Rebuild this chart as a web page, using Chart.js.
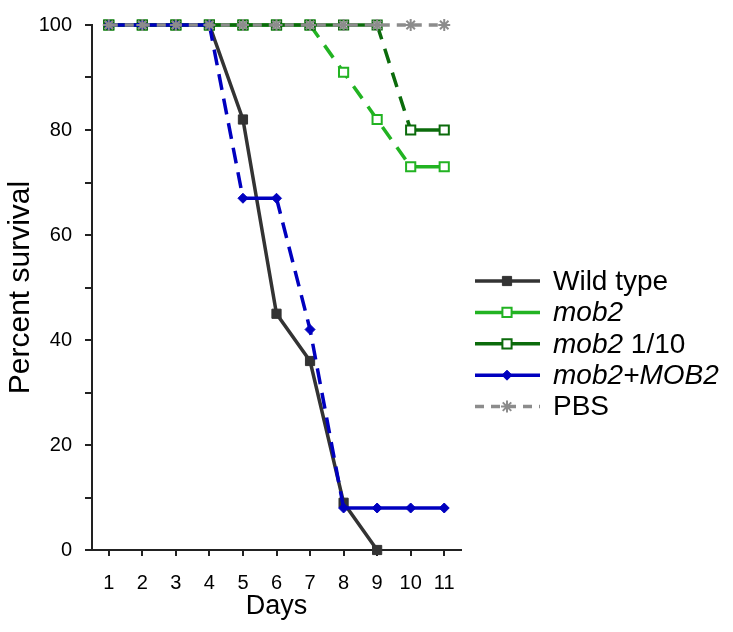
<!DOCTYPE html>
<html>
<head>
<meta charset="utf-8">
<script src="https://cdn.jsdelivr.net/npm/chart.js@4.4.1/dist/chart.umd.min.js"></script>
<style>
  html, body { margin: 0; padding: 0; background: #fff; }
  #wrap { width: 733px; height: 632px; position: relative; }
</style>
</head>
<body>
<div id="wrap"><canvas id="survivalChart"></canvas></div>
<script>
// data
const days = [1, 2, 3, 4, 5, 6, 7, 8, 9, 10, 11];
const wildType = [100, 100, 100, 100, 82, 45, 36, 9, 0, null, null];
const mob2 = [100, 100, 100, 100, 100, 100, 100, 91, 82, 73, 73];
const mob2Dilute = [100, 100, 100, 100, 100, 100, 100, 100, 100, 80, 80];
const mob2MOB2 = [100, 100, 100, 100, 67, 67, 42, 8, 8, 8, 8];
const pbs = [100, 100, 100, 100, 100, 100, 100, 100, 100, 100, 100];
const yTicks = [0, 10, 20, 30, 40, 50, 60, 70, 80, 90, 100];

// legend text, [text, italic]
const legendParts = [
    [['Wild type', false]],
    [['mob2', true]],
    [['mob2', true], [' 1/10', false]],
    [['mob2+MOB2', true]],
    [['PBS', false]]
];

const FONT = 'Arial, "Liberation Sans", sans-serif';

function toPoints(values) {
    return days.map((d, i) => ({ x: d, y: values[i] }));
}

// declining steps are dashed, flat steps solid
const dropDash = (dash) => ctx => ctx.p0.parsed.y > ctx.p1.parsed.y ? dash : undefined;

const datasets = [
    {
        label: 'Wild type',
        data: toPoints(wildType),
        borderColor: '#333333',
        backgroundColor: '#333333',
        pointStyle: 'rect',
        pointRadius: 6.5,
        pointBorderWidth: 1,
        borderWidth: 3.5,
        order: 4
    },
    {
        label: 'mob2',
        data: toPoints(mob2),
        borderColor: '#22b322',
        backgroundColor: '#ffffff',
        pointStyle: 'rect',
        pointRadius: 6.5,
        pointBorderWidth: 2,
        borderWidth: 3.5,
        segment: { borderDash: dropDash([15, 10]) },
        order: 3
    },
    {
        label: 'mob2 1/10',
        data: toPoints(mob2Dilute),
        borderColor: '#0b6b0b',
        backgroundColor: '#ffffff',
        pointStyle: 'rect',
        pointRadius: 6.5,
        pointBorderWidth: 2,
        borderWidth: 3.5,
        segment: { borderDash: dropDash([15, 10]) },
        order: 2
    },
    {
        label: 'mob2+MOB2',
        data: toPoints(mob2MOB2),
        borderColor: '#0000bf',
        backgroundColor: '#0000bf',
        pointStyle: 'rectRot',
        pointRadius: 5,
        pointBorderWidth: 1,
        borderWidth: 3.5,
        segment: { borderDash: dropDash([16, 9]) },
        order: 1
    },
    {
        label: 'PBS',
        data: toPoints(pbs),
        borderColor: '#8c8c8c',
        backgroundColor: '#8c8c8c',
        pointStyle: 'star',
        pointRadius: 6,
        pointBorderWidth: 2,
        borderWidth: 3.5,
        borderDash: [9, 7],
        order: 0
    }
];

const legendPlugin = {
    id: 'sideLegend',
    afterDraw(chart) {
        const ctx = chart.ctx;
        const x0 = 475, x1 = 540, xm = 507, tx = 553;
        ctx.save();
        datasets.forEach((ds, i) => {
            const y = 281 + i * 31.4;
            ctx.beginPath();
            ctx.strokeStyle = ds.borderColor;
            ctx.lineWidth = ds.borderWidth;
            ctx.setLineDash(ds.borderDash || []);
            ctx.moveTo(x0, y);
            ctx.lineTo(x1, y);
            ctx.stroke();
            ctx.setLineDash([]);
            ctx.fillStyle = ds.backgroundColor;
            ctx.lineWidth = ds.pointBorderWidth;
            Chart.helpers.drawPoint(ctx, { pointStyle: ds.pointStyle, radius: ds.pointRadius, borderWidth: ds.pointBorderWidth }, xm, y);

            let x = tx;
            ctx.fillStyle = '#000';
            ctx.textBaseline = 'middle';
            ctx.textAlign = 'left';
            legendParts[i].forEach(([text, italic]) => {
                ctx.font = (italic ? 'italic ' : '') + '28px ' + FONT;
                ctx.fillText(text, x, y + 1);
                x += ctx.measureText(text).width;
            });
        });
        ctx.restore();
    }
};

new Chart(document.getElementById('survivalChart'), {
    type: 'line',
    data: { datasets: datasets },
    options: {
        responsive: true,
        maintainAspectRatio: false,
        animation: false,
        events: [],
        layout: { padding: { top: 12, right: 272, bottom: 0, left: 0 } },
        elements: { line: { tension: 0, borderCapStyle: 'butt' } },
        datasets: { line: { clip: false, spanGaps: false } },
        plugins: {
            legend: { display: false },
            tooltip: { enabled: false }
        },
        scales: {
            x: {
                type: 'linear',
                min: 0.5,
                max: 11.5,
                afterBuildTicks: s => { s.ticks = days.map(v => ({ value: v })); },
                afterFit: s => { s.height = 82; },
                grid: { drawOnChartArea: false, drawTicks: true, tickLength: 6, color: '#222', lineWidth: 2 },
                border: { display: true, color: '#222', width: 2 },
                ticks: { color: '#000', padding: 15, font: { family: FONT, size: 20 }, maxRotation: 0 },
                title: { display: true, text: 'Days', color: '#000', font: { family: FONT, size: 27 }, padding: { top: 0, bottom: 9 } }
            },
            y: {
                min: 0,
                max: 100,
                afterBuildTicks: s => { s.ticks = yTicks.map(v => ({ value: v })); },
                afterFit: s => { s.width = 92; },
                grid: { drawOnChartArea: false, drawTicks: true, tickLength: 7, color: '#222', lineWidth: 2 },
                border: { display: true, color: '#222', width: 2 },
                ticks: {
                    color: '#000',
                    padding: 13,
                    font: { family: FONT, size: 20 },
                    callback: v => (v % 20 === 0 ? v : '')
                },
                title: { display: true, text: 'Percent survival', color: '#000', font: { family: FONT, size: 30 }, padding: { top: 3, bottom: 0 } }
            }
        }
    },
    plugins: [legendPlugin]
});
</script>
</body>
</html>
